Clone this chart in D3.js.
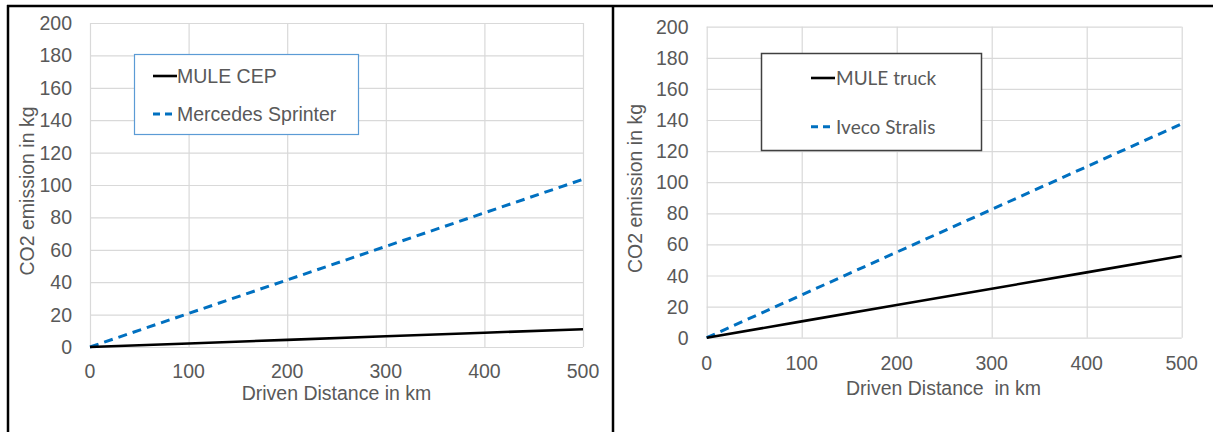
<!DOCTYPE html>
<html><head><meta charset="utf-8">
<script src="https://cdn.jsdelivr.net/npm/d3@7"></script>
<style>
html,body{margin:0;padding:0;background:#fff;}
svg{display:block;}
text{font-family:"Liberation Sans",Arial,sans-serif;}
</style></head>
<body>
<svg id="c" width="1213" height="432"></svg>
<script>
// ---- data ----
const distances = [0, 100, 200, 300, 400, 500];
const muleCEP = [0, 2.2, 4.4, 6.6, 8.8, 11];
const mercedesSprinter = [0, 20.7, 41.4, 62.1, 82.8, 103.5];
const muleTruck = [0, 10.5, 21, 31.5, 42, 52.5];
const ivecoStralis = [0, 27.5, 55, 82.5, 110, 137.5];
const xTicks = [0, 100, 200, 300, 400, 500];
const yTicks = [0, 20, 40, 60, 80, 100, 120, 140, 160, 180, 200];
const leftNames = ["MULE CEP", "Mercedes Sprinter"];
const rightNames = ["MULE truck", "Iveco Stralis"];
const yTitle = "CO2 emission in kg";
const xTitleLeft = "Driven Distance in km";
const xTitleRight = "Driven Distance  in km";

const svg = d3.select("#c");
const GRID = "#d9d9d9", TXT = "#595959", BLUE = "#0070c0";

function chart(cfg) {
  const g = svg.append("g");
  const x = d3.scaleLinear().domain([0, 500]).range([cfg.x0, cfg.x1]);
  const y = d3.scaleLinear().domain([0, 200]).range([cfg.y0, cfg.y1]);
  // gridlines
  g.append("g").selectAll("line").data(yTicks).join("line")
    .attr("x1", cfg.x0).attr("x2", cfg.x1)
    .attr("y1", d => y(d) + 0.5).attr("y2", d => y(d) + 0.5)
    .attr("stroke", GRID).attr("stroke-width", 1.2);
  g.append("g").selectAll("line").data(xTicks).join("line")
    .attr("y1", cfg.y1).attr("y2", cfg.y0)
    .attr("x1", d => x(d) + 0.5).attr("x2", d => x(d) + 0.5)
    .attr("stroke", GRID).attr("stroke-width", 1.2);
  // tick labels
  g.append("g").selectAll("text").data(yTicks).join("text")
    .attr("x", cfg.yLabX).attr("y", d => y(d)).attr("dy", "0.36em")
    .attr("text-anchor", "end").attr("font-size", 19.5).attr("fill", TXT)
    .text(d => d);
  g.append("g").selectAll("text").data(xTicks).join("text")
    .attr("x", d => x(d)).attr("y", cfg.xLabY)
    .attr("text-anchor", "middle").attr("font-size", 19.5).attr("fill", TXT)
    .text(d => d);
  // axis titles
  g.append("text").attr("transform", `translate(${cfg.yTitleX},${cfg.yTitleY}) rotate(-90)`)
    .attr("text-anchor", "middle").attr("dy", "0.36em").attr("font-size", 19.5).attr("fill", TXT)
    .style("white-space", "pre")
    .text(yTitle);
  g.append("text").attr("x", cfg.xTitleX).attr("y", cfg.xTitleY)
    .attr("text-anchor", "middle").attr("font-size", 19.5).attr("fill", TXT)
    .style("white-space", "pre")
    .text(cfg.xTitle);
  // lines
  const line = d3.line().x((d, i) => x(distances[i])).y(d => y(d));
  g.append("path").datum(cfg.dashed).attr("d", line).attr("fill", "none")
    .attr("stroke", BLUE).attr("stroke-width", 3).attr("stroke-dasharray", "9,6");
  g.append("path").datum(cfg.solid).attr("d", line).attr("fill", "none")
    .attr("stroke", "#000").attr("stroke-width", 2.6);
  // legend
  const L = cfg.legend;
  g.append("rect").attr("x", L.x).attr("y", L.y).attr("width", L.w).attr("height", L.h)
    .attr("fill", "#fff").attr("stroke", L.stroke).attr("stroke-width", L.sw);
  L.names.forEach((n, i) => {
    const cy = L.rows[i];
    g.append("line").attr("x1", L.lx0).attr("x2", L.lx1).attr("y1", cy).attr("y2", cy)
      .attr("stroke", i === 0 ? "#000" : BLUE).attr("stroke-width", i === 0 ? 2.6 : 3)
      .attr("stroke-dasharray", i === 0 ? null : "7,5");
    g.append("text").attr("x", L.tx).attr("y", cy).attr("dy", "0.36em")
      .attr("font-size", L.fs).attr("fill", TXT).style("font-family", L.font)
      .text(n);
  });
}

chart({
  x0: 90, x1: 583, y0: 347, y1: 23,
  yLabX: 72, xLabY: 377.5, yTitleX: 27, yTitleY: 191,
  xTitleX: 336.5, xTitleY: 399.5, xTitle: xTitleLeft,
  solid: muleCEP, dashed: mercedesSprinter,
  legend: { x: 134.5, y: 54.5, w: 224, h: 80, stroke: "#5b9bd5", sw: 1.2,
    names: leftNames, rows: [76, 114], lx0: 153, lx1: 177, tx: 177, fs: 19.5,
    font: "Liberation Sans" }
});
chart({
  x0: 706.7, x1: 1181.7, y0: 337.7, y1: 26.7,
  yLabX: 688.5, xLabY: 370, yTitleX: 635, yTitleY: 188.5,
  xTitleX: 943.5, xTitleY: 395, xTitle: xTitleRight,
  solid: muleTruck, dashed: ivecoStralis,
  legend: { x: 761.5, y: 53.5, w: 220, h: 97, stroke: "#404040", sw: 1.5,
    names: rightNames, rows: [78, 126.7], lx0: 811, lx1: 835, tx: 836, fs: 19,
    font: "Lato" }
});

// frame (table borders)
const frame = [[7, 6, 1213, 6], [8, 5, 8, 432], [613, 5, 613, 432]];
svg.append("g").selectAll("line").data(frame).join("line")
  .attr("x1", d => d[0]).attr("y1", d => d[1]).attr("x2", d => d[2]).attr("y2", d => d[3])
  .attr("stroke", "#000").attr("stroke-width", 2.5);
</script>
</body></html>
